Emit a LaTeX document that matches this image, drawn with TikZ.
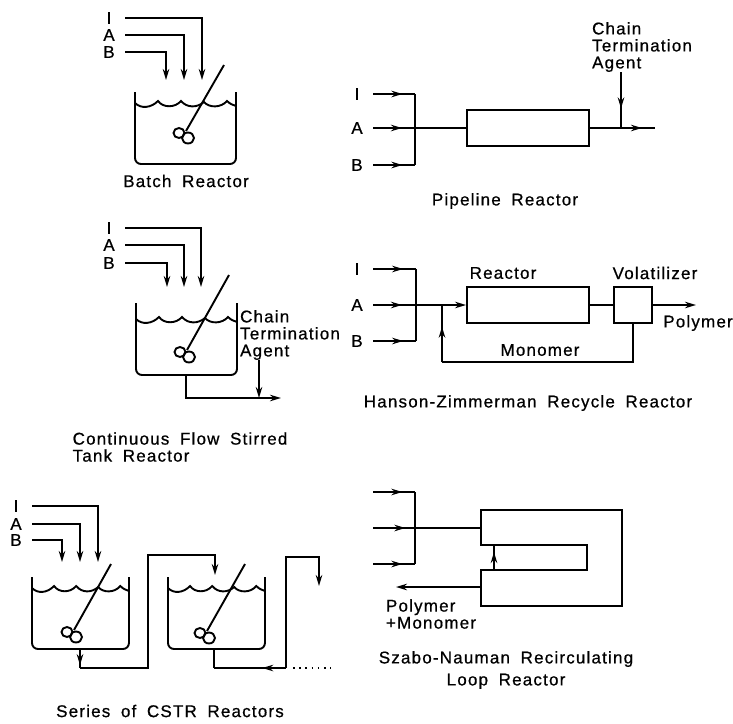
\documentclass[tikz,border=0pt]{standalone}
\usepackage{fontspec}
\setmainfont{Liberation Sans}[LetterSpace=7,WordSpace=1.8,FakeBold=0.7]
\usetikzlibrary{arrows.meta, decorations.markings}
\tikzset{
    pipe/.style={line width=1.9pt},
    arrow/.style={pipe, -{Stealth[length=11pt,width=6.5pt]}},
    midtip/.style={pipe, postaction={decorate}, decoration={markings, mark=at position #1 with {\arrow{Stealth[length=11pt,width=6.5pt]}}}},
    txt/.style={inner sep=0pt, align=left, font=\fontsize{17}{17}\selectfont},
    feedlab/.style={txt, minimum width=32pt},
    vessel/.style={pipe, draw, rectangle, inner sep=0pt},
    tank/.pic={
        \draw[pipe, rounded corners=6pt] (0,0) -- (0,72) -- (101,72) -- (101,0);
        \draw[pipe, shift={(0,#1)}] (0,11) .. controls (6,17) and (16,16) .. (23,9)
            .. controls (28,16) and (40,16) .. (46,9)
            .. controls (52,16) and (62,16) .. (69,10)
            .. controls (74,16) and (86,16) .. (92,9)
            .. controls (95,12) and (98,13) .. (101,14);
    },
    impeller/.pic={
        \draw[pipe] (-7,2) circle [x radius=5.5, y radius=5];
        \draw[pipe] (2,7) circle [x radius=6, y radius=5.5];
    },
}
\begin{document}
\begin{tikzpicture}[x=1pt, y=-1pt]
\useasboundingbox (0,0) rectangle (733,723);

% Batch
\foreach \lab/\y/\x in {I/18/202, A/35/184, B/52/166} {
    \node[feedlab] (batch\lab) at (109,\y) {\lab};
    \coordinate (batchtip\lab) at (\x,80);
    \draw[arrow] (batch\lab.east) -| (batchtip\lab);
}
\pic at (135,92) {tank=0};
\coordinate (batchtop) at (224,65);
\coordinate (batchend) at (186,131);
\draw[pipe] (batchtop) -- (batchend);
\pic at (batchend) {impeller};
\node[txt] (batchcap) at (186,181) {Batch Reactor};

% CSTR
\foreach \lab/\y/\x in {I/228/201, A/245/184, B/263/167} {
    \node[feedlab] (cstr\lab) at (109,\y) {\lab};
    \coordinate (cstrtip\lab) at (\x,287);
    \draw[arrow] (cstr\lab.east) -| (cstrtip\lab);
}
\pic at (136,303) {tank=5};
\coordinate (cstrtop) at (229,275);
\coordinate (cstrend) at (187,350);
\draw[pipe] (cstrtop) -- (cstrend);
\pic at (cstrend) {impeller};
\coordinate (cstrout) at (186,375);
\coordinate (cstrexit) at (281,398);
\draw[arrow] (cstrout) |- (cstrexit);
\node[txt] (cstrchain) at (290,335) {Chain\\Termination\\Agent};
\coordinate (cstrchainend) at (259,398);
\draw[arrow] (cstrchain.south -| cstrchainend) -- (cstrchainend);
\node[txt] (cstrcap) at (180,447) {Continuous Flow Stirred\\ Tank Reactor};

% Series of tanks
\foreach \lab/\y/\x in {I/506/98, A/524/80, B/540/62} {
    \node[feedlab] (ser\lab) at (16,\y) {\lab};
    \coordinate (sertip\lab) at (\x,562);
    \draw[arrow] (ser\lab.east) -| (sertip\lab);
}
\pic[xscale=.96] at (32,577) {tank=0};
\pic[xscale=.96] at (168,577) {tank=0};
\coordinate (seratop) at (111,564);
\coordinate (seraend) at (74,630);
\draw[pipe] (seratop) -- (seraend);
\pic at (seraend) {impeller};
\coordinate (serbtop) at (245,564);
\coordinate (serbend) at (207,631);
\draw[pipe] (serbtop) -- (serbend);
\pic at (serbend) {impeller};
\coordinate (seraout) at (80,649);
\coordinate (seralow) at (80,668);
\coordinate (serarise) at (148,668);
\coordinate (serahigh) at (148,555);
\coordinate (serbin) at (215,575);
\draw[midtip=.85] (seraout) -- (seralow);
\draw[arrow] (seralow) -- (serarise) -- (serahigh) -| (serbin);
\coordinate (serbout) at (214,649);
\coordinate (serblow) at (214,668);
\coordinate (serbrise) at (286,668);
\coordinate (serbhigh) at (286,557);
\coordinate (sernext) at (319,586);
\draw[pipe] (serbout) -- (serblow);
\draw[midtip=.33] (serbrise) -- (serblow);
\draw[arrow] (serbrise) -- (serbhigh) -| (sernext);
\coordinate (serdota) at (293,668);
\coordinate (serdotb) at (331,668);
\draw[pipe, dash pattern=on 1.5pt off 4.7pt] (serdota) -- (serdotb);
\node[txt] (sercap) at (170,711) {Series of CSTR Reactors};

% Pipeline
\node[feedlab] (pipeI) at (357,94) {I};
\node[feedlab] (pipeA) at (357,128) {A};
\node[feedlab] (pipeB) at (357,165) {B};
\coordinate (pipetop) at (415,94);
\coordinate (pipelow) at (415,165);
\node[vessel, minimum width=122pt, minimum height=36pt] (pipereactor) at (528,128) {};
\draw[midtip=.7] (pipeI.east) -- (pipetop);
\draw[midtip=.7] (pipeB.east) -- (pipelow);
\draw[pipe] (pipetop) -- (pipelow);
\draw[midtip=.31] (pipeA.east) -- (pipereactor.west);
\coordinate (pipeout) at (655,128);
\draw[midtip=.8] (pipereactor.east) -- (pipeout);
\node[txt] (pipechain) at (642,47) {Chain\\Termination\\Agent};
\coordinate (pipejoin) at (621,128);
\draw[midtip=.65] (pipechain.south -| pipejoin) -- (pipejoin);
\node[txt] (pipecap) at (505,201) {Pipeline Reactor};

% Recycle
\node[feedlab] (hanI) at (357,269) {I};
\node[feedlab] (hanA) at (357,305) {A};
\node[feedlab] (hanB) at (357,341) {B};
\coordinate (hantop) at (416,269);
\coordinate (hanlow) at (416,341);
\node[vessel, minimum width=122pt, minimum height=36pt] (hanreactor) at (528,305) {};
\node[vessel, minimum width=38pt, minimum height=36pt] (hanvol) at (633,305) {};
\draw[midtip=.7] (hanI.east) -- (hantop);
\draw[midtip=.7] (hanB.east) -- (hanlow);
\draw[pipe] (hantop) -- (hanlow);
\draw[midtip=.31, arrow] (hanA.east) -- (hanreactor.west);
\draw[pipe] (hanreactor.east) -- (hanvol.west);
\coordinate (hanout) at (696,305);
\draw[arrow] (hanvol.east) -- (hanout);
\coordinate (hanjoin) at (442,305);
\coordinate (hanturn) at (442,362);
\draw[pipe] (hanvol.south) |- (hanturn);
\draw[midtip=.62] (hanturn) -- (hanjoin);
\node[txt] (hanreactorlab) at (503,273) {Reactor};
\node[txt] (hanvollab) at (655,273) {Volatilizer};
\node[txt] (hanpolymer) at (698,323) {Polymer};
\node[txt] (hanmonomer) at (540,350) {Monomer};
\node[txt] (hancap) at (528,403) {Hanson-Zimmerman Recycle Reactor};

% Recirculating loop
\coordinate (looptopa) at (373,492);
\coordinate (loopmida) at (373,528);
\coordinate (looplowa) at (373,564);
\coordinate (looptop) at (415,492);
\coordinate (looplow) at (415,564);
\coordinate (loopin) at (481,528);
\draw[midtip=.7] (looptopa) -- (looptop);
\draw[midtip=.7] (looplowa) -- (looplow);
\draw[pipe] (looptop) -- (looplow);
\draw[midtip=.3] (loopmida) -- (loopin);
\draw[pipe] (481,510) -- (622,510) -- (622,606) -- (481,606) -- (481,570) -- (587,570) -- (587,545) -- (481,545) -- cycle;
\coordinate (loopreca) at (494,570);
\coordinate (looprecb) at (494,545);
\draw[midtip=.72] (loopreca) -- (looprecb);
\coordinate (loopout) at (481,587);
\coordinate (loopexit) at (396,587);
\draw[arrow] (loopout) -- (loopexit);
\node[txt] (looplab) at (431,614) {Polymer\\+Monomer};
\node[txt, align=center] (loopcap) at (506,670) {Szabo-Nauman Recirculating\\[5pt]Loop Reactor};
\end{tikzpicture}
\end{document}
